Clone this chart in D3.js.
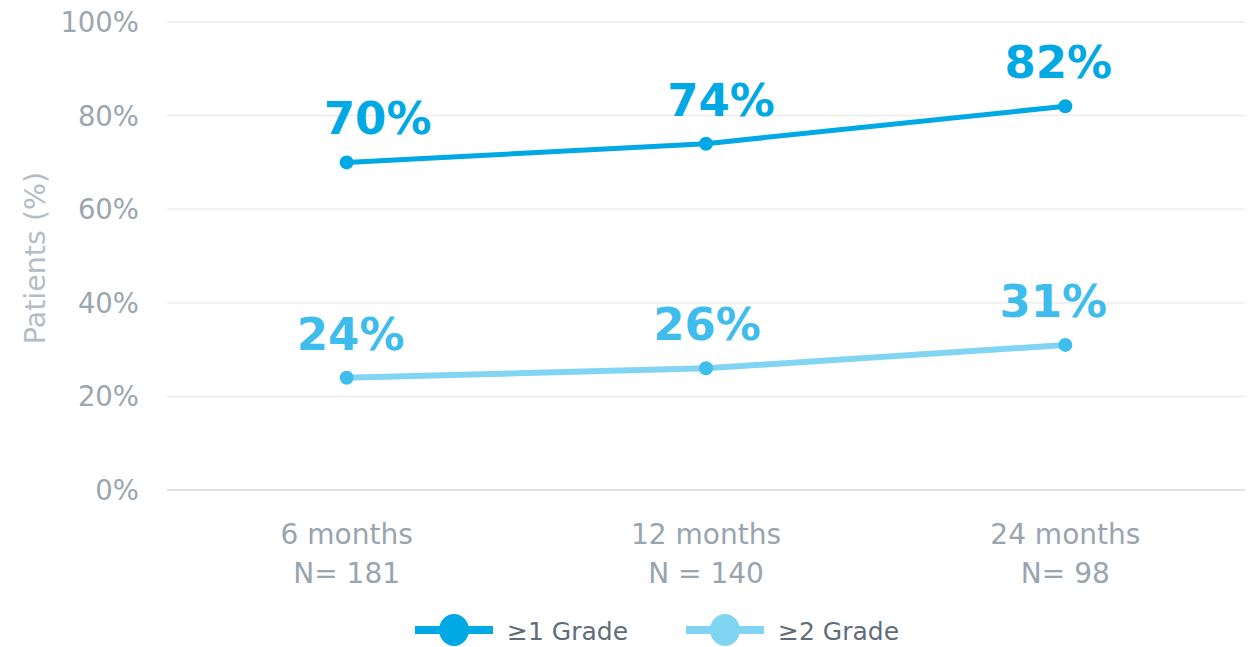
<!DOCTYPE html>
<html>
<head>
<meta charset="utf-8">
<script src="https://cdn.jsdelivr.net/npm/d3@7"></script>
<style>
  html, body { margin: 0; padding: 0; background: #ffffff; }
  svg { display: block; font-family: "DejaVu Sans", Verdana, sans-serif; }
</style>
</head>
<body>
<svg id="chart" width="1255" height="647"></svg>
<script>
// Time points and sample sizes
const timepoints = ["6 months", "12 months", "24 months"];
const sampleSizes = ["N= 181", "N = 140", "N= 98"];

// Percentage of patients by grade
const grade1Values = [70, 74, 82];
const grade2Values = [24, 26, 31];

const seriesNames = ["\u22651 Grade", "\u22652 Grade"];
const yTicks = [0, 20, 40, 60, 80, 100];

// Horizontal nudges for the value labels
const labelShift1 = [31, 15, -7];
const labelShift2 = [4, 1, -12];

const svg = d3.select("#chart");
const margin = { left: 167, right: 10, top: 22, bottom: 157 };
const W = 1255, H = 647;

const x = d3.scaleBand().domain(timepoints).range([margin.left, W - margin.right]).padding(0);
const y = d3.scaleLinear().domain([0, 100]).range([H - margin.bottom, margin.top]);
const cx = d => x(d) + x.bandwidth() / 2;

// Gridlines
svg.append("g").selectAll("line").data(yTicks).join("line")
  .attr("x1", margin.left).attr("x2", W - margin.right)
  .attr("y1", d => y(d)).attr("y2", d => y(d))
  .attr("stroke", d => d === 0 ? "#e2e2e2" : "#efefef")
  .attr("stroke-width", 2);

// Y tick labels
svg.append("g").selectAll("text").data(yTicks).join("text")
  .attr("x", 139).attr("y", d => y(d))
  .attr("text-anchor", "end").attr("dominant-baseline", "central")
  .attr("font-size", 27.5).attr("fill", "#9aa6b0")
  .text(d => d + "%");

// Y axis title
svg.append("text")
  .attr("transform", `translate(45, ${(y(0) + y(100)) / 2 + 2}) rotate(-90)`)
  .attr("text-anchor", "middle")
  .attr("font-size", 28.5).attr("fill", "#b4bdc5")
  .text("Patients (%)");

// X labels (two lines)
const xl = svg.append("g").selectAll("text").data(timepoints).join("text")
  .attr("text-anchor", "middle").attr("font-size", 28).attr("fill", "#98a4ae");
xl.append("tspan").attr("x", d => cx(d)).attr("y", 544).text(d => d);
xl.append("tspan").attr("x", d => cx(d)).attr("y", 583).text((d, i) => sampleSizes[i]);

const line = d3.line().x((d, i) => cx(timepoints[i])).y(d => y(d));

function drawSeries(values, lineColor, dotColor, labelColor, width, shifts) {
  const g = svg.append("g");
  g.append("path").datum(values)
    .attr("d", line).attr("fill", "none")
    .attr("stroke", lineColor).attr("stroke-width", width);
  g.selectAll("circle").data(values).join("circle")
    .attr("cx", (d, i) => cx(timepoints[i])).attr("cy", d => y(d))
    .attr("r", 7).attr("fill", dotColor);
  g.selectAll("text").data(values).join("text")
    .attr("x", (d, i) => cx(timepoints[i]) + shifts[i])
    .attr("y", d => y(d) - 28)
    .attr("text-anchor", "middle")
    .attr("font-size", 45).attr("font-weight", "bold")
    .attr("fill", labelColor)
    .text(d => d + "%");
}

drawSeries(grade2Values, "#82d4f3", "#3fbdec", "#3ebdec", 6, labelShift2);
drawSeries(grade1Values, "#00a8e4", "#00a8e4", "#00a9e3", 5, labelShift1);

// Legend
const legend = [
  { name: seriesNames[0], color: "#00a8e4", x0: 415 },
  { name: seriesNames[1], color: "#82d4f3", x0: 686 }
];
const lg = svg.append("g").selectAll("g").data(legend).join("g")
  .attr("transform", d => `translate(${d.x0}, 630)`);
lg.append("line").attr("x1", 0).attr("x2", 78).attr("y1", 0).attr("y2", 0)
  .attr("stroke", d => d.color).attr("stroke-width", 8);
lg.append("ellipse").attr("cx", 39).attr("cy", 0).attr("rx", 15).attr("ry", 16)
  .attr("fill", d => d.color);
lg.append("text").attr("x", 92).attr("y", 1).attr("dominant-baseline", "central")
  .attr("font-size", 25).attr("fill", "#5f6d79")
  .text(d => d.name);
</script>
</body>
</html>
